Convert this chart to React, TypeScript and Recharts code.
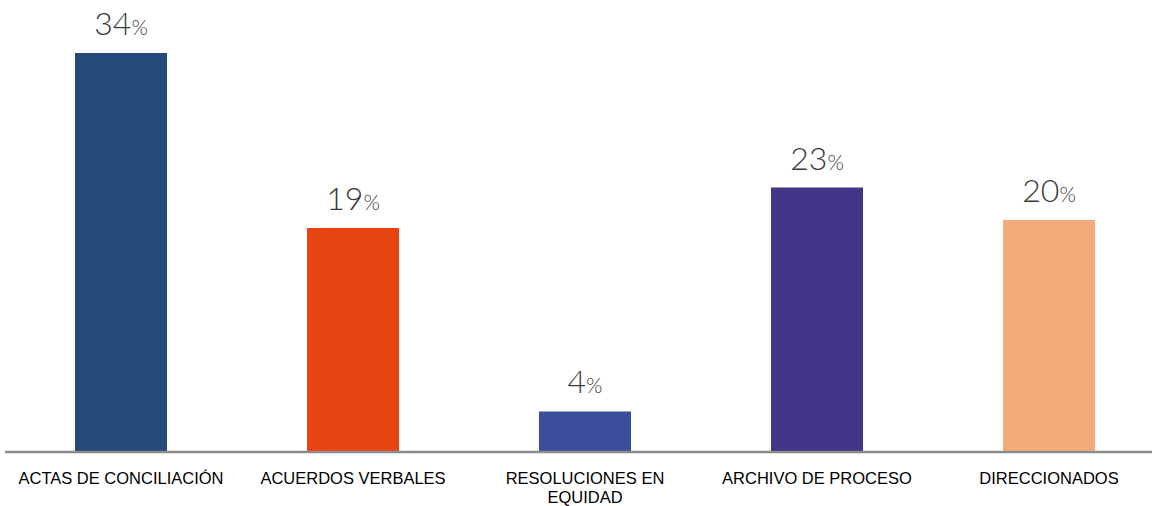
import { BarChart, Bar, XAxis, YAxis, Cell, LabelList, Text } from 'recharts';

const categories = [
  'ACTAS DE CONCILIACIÓN',
  'ACUERDOS VERBALES',
  'RESOLUCIONES EN EQUIDAD',
  'ARCHIVO DE PROCESO',
  'DIRECCIONADOS',
];
const values = [34.4, 19.3, 3.5, 22.8, 20.0];
const colors = ['#254A7A', '#E84412', '#3A4E9C', '#433588', '#F5AB79'];

const chartData = categories.map((name, i) => ({ name, value: values[i] }));

function CategoryTick(props: any) {
  const { x, y, payload } = props;
  return (
    <Text
      x={x}
      y={y}
      width={232}
      textAnchor="middle"
      verticalAnchor="start"
      lineHeight={19}
      style={{ fontFamily: 'Arial, "Liberation Sans", sans-serif', fontSize: '16.5px' }}
      fill="#000000"
    >
      {payload.value}
    </Text>
  );
}

function ValueLabel(props: any) {
  const { x, y, width, value } = props;
  return (
    <text
      x={x + width / 2}
      y={y - 18}
      textAnchor="middle"
      fill="#3a3a3a"
      style={{ fontFamily: 'Lato, sans-serif', fontWeight: 300 }}
    >
      <tspan fontSize={32}>{Math.round(value)}</tspan>
      <tspan fontSize={21}>%</tspan>
    </text>
  );
}

export default function App() {
  return (
    <div
      style={{
        position: 'fixed',
        top: 0,
        left: 0,
        width: 1152,
        height: 506,
        overflow: 'hidden',
        background: '#ffffff',
      }}
    >
      <BarChart
        width={1168}
        height={506}
        data={chartData}
        margin={{ top: 46, right: 3, left: 5, bottom: 0 }}
      >
        <XAxis
          dataKey="name"
          height={54}
          interval={0}
          tickLine={false}
          axisLine={{ stroke: '#8c8c8c', strokeWidth: 2.5 }}
          tick={<CategoryTick />}
          tickMargin={14}
        />
        <YAxis hide domain={[0, 35]} />
        <Bar dataKey="value" barSize={92} isAnimationActive={false}>
          {chartData.map((d, i) => (
            <Cell key={d.name} fill={colors[i]} />
          ))}
          <LabelList dataKey="value" content={<ValueLabel />} />
        </Bar>
      </BarChart>
    </div>
  );
}
